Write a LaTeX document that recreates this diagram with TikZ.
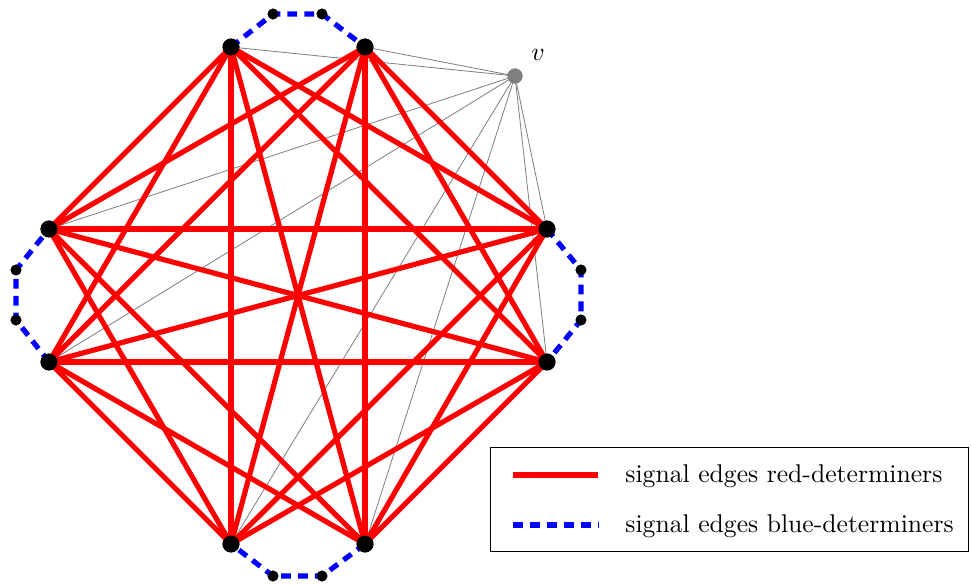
\documentclass[tikz,border=0pt]{standalone}
\begin{document}
\begin{tikzpicture}[x=0.425pt,y=-0.425pt,
  big/.style={circle,fill=black,inner sep=0pt,minimum size=7.2pt},
  small/.style={circle,fill=black,inner sep=0pt,minimum size=4.6pt},
  gnode/.style={circle,fill=gray,inner sep=0pt,minimum size=6.4pt},
  redge/.style={red,line width=2.2pt},
  bedge/.style={blue,line width=2.2pt,dash pattern=on 4.2pt off 3pt},
  gedge/.style={gray,line width=0.35pt},
  legtext/.style={anchor=base west,inner sep=0pt,font=\fontsize{10.9}{13}\selectfont}]
\useasboundingbox (0,0) rectangle (971,585);
\node[big] (a) at (231,47) {};
\node[big] (b) at (365,47) {};
\node[big] (c) at (547,229) {};
\node[big] (d) at (547,362) {};
\node[big] (e) at (365,544) {};
\node[big] (f) at (231,544) {};
\node[big] (g) at (49,362) {};
\node[big] (h) at (49,229) {};
\node[small] (ab1) at (273,14) {};
\node[small] (ab2) at (322,14) {};
\node[small] (cd1) at (581,270) {};
\node[small] (cd2) at (581,320) {};
\node[small] (ef1) at (322,576) {};
\node[small] (ef2) at (273,576) {};
\node[small] (gh1) at (16,320) {};
\node[small] (gh2) at (16,270) {};
\node[gnode] (v) at (515,76) {};
\node[anchor=center,font=\fontsize{10.9}{13}\selectfont] (vl) at (538,55) {$v$};
\foreach \t in {a,b,c,d,e,f,g,h} \draw[gedge] (v.center) -- (\t.center);
\foreach \s/\t in {a/c,a/d,a/e,a/f,a/g,a/h,b/c,b/d,b/e,b/f,b/g,b/h,
  c/e,c/f,c/g,c/h,d/e,d/f,d/g,d/h,e/g,e/h,f/g,f/h}
  \draw[redge] (\s.center) -- (\t.center);
\draw[bedge] (a.center) -- (ab1.center) -- (ab2.center) -- (b.center);
\draw[bedge] (c.center) -- (cd1.center) -- (cd2.center) -- (d.center);
\draw[bedge] (e.center) -- (ef1.center) -- (ef2.center) -- (f.center);
\draw[bedge] (g.center) -- (gh1.center) -- (gh2.center) -- (h.center);
\foreach \t in {a,b,c,d,e,f,g,h} \node[big] at (\t) {};
\foreach \t in {ab1,ab2,cd1,cd2,ef1,ef2,gh1,gh2} \node[small] at (\t) {};
\node[gnode] at (v) {};
% legend
\node[draw=black,line width=0.4pt,minimum width=478*0.425pt,minimum height=104*0.425pt,inner sep=0pt] (box) at (729,499) {};
\coordinate (r1) at (513,475);
\coordinate (r2) at (598,475);
\coordinate (b1) at (513,525);
\coordinate (b2) at (598,525);
\draw[redge] (r1) -- (r2);
\draw[bedge] (b1) -- (b2);
\node[legtext] (t1) at (625,482) {signal edges red-determiners};
\node[legtext] (t2) at (625,532) {signal edges blue-determiners};
\end{tikzpicture}
\end{document}
